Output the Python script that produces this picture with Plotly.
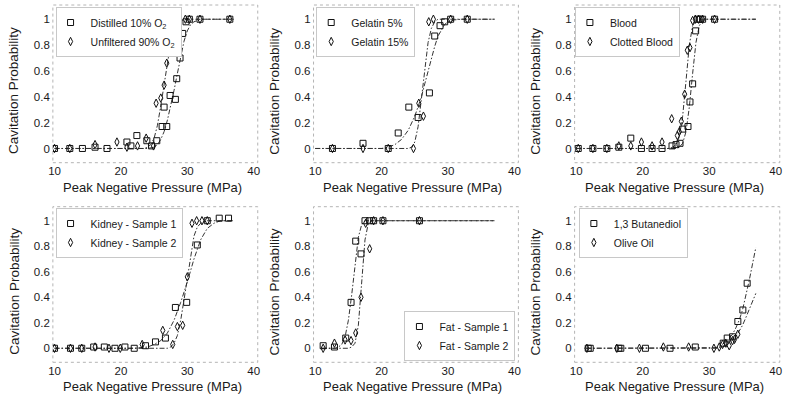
import plotly.graph_objects as go

# ---------------- data ----------------
series_names = [
    ("Distilled 10% O<sub>2</sub>", "Unfiltered 90% O<sub>2</sub>"),
    ("Gelatin 5%", "Gelatin 15%"),
    ("Blood", "Clotted Blood"),
    ("Kidney - Sample 1", "Kidney - Sample 2"),
    ("Fat - Sample 1", "Fat - Sample 2"),
    ("1,3 Butanediol", "Olive Oil"),
]

p1_sq_x = [10.0, 12.3, 14.2, 16.1, 17.9, 20.9, 21.5, 22.4, 23.9, 24.6, 25.4, 26.2, 26.5, 26.9, 27.4, 28.2, 28.4, 28.9, 29.3, 29.8, 30.3, 31.9, 36.4]
p1_sq_y = [0, 0, 0, 0.01, 0, 0.05, 0.02, 0.10, 0.06, 0.02, 0.06, 0.17, 0.32, 0.17, 0.41, 0.38, 0.54, 0.70, 0.89, 0.98, 1.0, 1.0, 1.0]
p1_di_x = [10.0, 12.3, 16.1, 19.4, 20.9, 22.5, 23.8, 24.9, 25.3, 26.0, 26.5, 26.9, 27.4, 27.9, 28.4, 28.7, 29.7, 30.3, 31.9, 36.4]
p1_di_y = [0, 0, 0.03, 0.05, 0.01, 0.02, 0.08, 0.02, 0.35, 0.39, 0.49, 0.66, 0.90, 0.93, 0.96, 0.98, 1.0, 1.0, 1.0, 1.0]
p1_fsq_x = [10, 24, 25, 25.5, 26, 26.5, 27, 27.5, 28, 28.5, 29, 29.5, 30, 30.5, 31, 32, 37]
p1_fsq_y = [0, 0, 0.01, 0.03, 0.07, 0.13, 0.22, 0.33, 0.45, 0.58, 0.72, 0.83, 0.91, 0.96, 0.98, 1.0, 1.0]
p1_fdi_x = [10, 23.5, 24, 24.5, 25, 25.5, 26, 26.5, 27, 27.5, 28, 28.5, 29, 30, 37]
p1_fdi_y = [0, 0, 0.01, 0.03, 0.08, 0.18, 0.33, 0.50, 0.68, 0.82, 0.92, 0.97, 0.99, 1.0, 1.0]

p2_sq_x = [12.6, 17.2, 21.0, 22.5, 24.1, 25.5, 27.2, 28.0, 28.8, 29.5, 30.4, 32.9]
p2_sq_y = [0, 0.04, 0, 0.12, 0.32, 0.24, 0.43, 0.87, 0.95, 0.98, 1.0, 1.0]
p2_di_x = [12.6, 17.2, 21.0, 24.8, 25.6, 26.3, 27.1, 27.8, 30.4, 32.9]
p2_di_y = [0, 0, 0, 0, 0.35, 0.25, 0.98, 1.0, 1.0, 1.0]
p2_fsq_x = [10, 20, 21, 22, 23, 24, 25, 26, 26.5, 27, 27.5, 28, 28.5, 29, 29.5, 30, 31, 32, 37]
p2_fsq_y = [0, 0, 0.01, 0.03, 0.07, 0.14, 0.25, 0.40, 0.50, 0.60, 0.70, 0.79, 0.87, 0.92, 0.96, 0.98, 0.995, 1.0, 1.0]
p2_fdi_x = [10, 24, 24.5, 25, 25.5, 26, 26.5, 27, 27.5, 28, 28.5, 37]
p2_fdi_y = [0, 0, 0.01, 0.05, 0.17, 0.38, 0.62, 0.82, 0.93, 0.98, 1.0, 1.0]

p3_sq_x = [10.3, 12.5, 14.6, 16.4, 18.2, 19.8, 21.4, 22.9, 24.4, 25.0, 25.6, 26.0, 26.8, 27.1, 27.5, 27.95, 28.3, 28.6, 29.0, 30.8]
p3_sq_y = [0, 0, 0, 0.01, 0.08, 0, 0, 0, 0.02, 0.03, 0.04, 0.15, 0.17, 0.36, 0.50, 0.91, 1.0, 1.0, 1.0, 1.0]
p3_di_x = [10.3, 12.5, 14.6, 16.4, 18.2, 19.8, 21.4, 22.9, 24.35, 25.2, 25.5, 25.8, 26.3, 26.7, 27.1, 27.5, 27.9, 28.4, 29.0, 30.8]
p3_di_y = [0, 0, 0, 0.02, 0.02, 0.05, 0.02, 0.05, 0.23, 0.10, 0.13, 0.21, 0.42, 0.76, 0.78, 0.99, 1.0, 1.0, 1.0, 1.0]
p3_fsq_x = [10, 25, 25.5, 26, 26.5, 27, 27.5, 28, 28.5, 29, 29.5, 37]
p3_fsq_y = [0, 0, 0.01, 0.04, 0.13, 0.32, 0.58, 0.82, 0.95, 0.99, 1.0, 1.0]
p3_fdi_x = [10, 24, 24.5, 25, 25.5, 26, 26.5, 27, 27.5, 28, 28.5, 37]
p3_fdi_y = [0, 0, 0.01, 0.03, 0.09, 0.25, 0.52, 0.80, 0.95, 0.99, 1.0, 1.0]

p4_sq_x = [10.0, 12.4, 14.1, 15.9, 17.5, 19.1, 20.6, 22.0, 23.7, 25.2, 26.7, 28.2, 29.9, 31.5, 33.0, 34.8, 36.2]
p4_sq_y = [0, 0, 0, 0.01, 0.01, 0, 0.01, 0, 0.02, 0.05, 0.08, 0.32, 0.36, 0.81, 1.0, 1.02, 1.02]
p4_di_x = [10.0, 12.4, 14.1, 16.1, 18.2, 19.9, 23.2, 26.3, 27.8, 28.5, 29.3, 30.0, 30.7, 31.4, 32.2, 33.0]
p4_di_y = [0, 0, 0, 0.01, 0, 0, 0.03, 0.14, 0.03, 0.17, 0.18, 0.56, 0.98, 1.0, 1.0, 1.0]
p4_fsq_x = [10, 22, 24, 25, 26, 27, 28, 29, 30, 31, 32, 33, 34, 35, 37]
p4_fsq_y = [0, 0, 0.01, 0.03, 0.06, 0.12, 0.22, 0.36, 0.52, 0.70, 0.85, 0.94, 0.98, 1.0, 1.0]
p4_fdi_x = [10, 27, 27.5, 28, 28.5, 29, 29.5, 30, 30.5, 31, 31.5, 32, 33, 37]
p4_fdi_y = [0, 0, 0.01, 0.04, 0.10, 0.22, 0.38, 0.56, 0.74, 0.88, 0.95, 0.98, 1.0, 1.0]

p5_sq_x = [11.2, 12.9, 14.6, 15.4, 16.1, 16.9, 17.5, 18.2, 18.8, 20.2, 25.7]
p5_sq_y = [0.02, 0.01, 0.08, 0.36, 0.84, 0.74, 1.0, 1.0, 1.0, 1.0, 1.0]
p5_di_x = [11.2, 12.9, 14.5, 15.4, 16.1, 16.9, 17.6, 18.2, 18.8, 20.2, 25.7]
p5_di_y = [0, 0.04, 0.065, 0.06, 0.12, 0.40, 0.98, 0.78, 1.0, 1.0, 1.0]
p5_fsq_x = [11, 13, 13.5, 14, 14.5, 15, 15.5, 16, 16.5, 17, 17.5, 37]
p5_fsq_y = [0, 0, 0.01, 0.03, 0.09, 0.22, 0.42, 0.67, 0.87, 0.97, 1.0, 1.0]
p5_fdi_x = [11, 15, 15.5, 16, 16.5, 17, 17.5, 18, 18.5, 37]
p5_fdi_y = [0, 0, 0.01, 0.04, 0.18, 0.50, 0.85, 0.98, 1.0, 1.0]

p6_sq_x = [11.8, 12.1, 16.4, 16.7, 20.4, 24.1, 27.9, 32.1, 32.7, 33.5, 34.3, 35.05, 35.7]
p6_sq_y = [0, 0, 0, 0, 0, 0, 0.01, 0.04, 0.08, 0.09, 0.21, 0.30, 0.51]
p6_di_x = [11.6, 16.1, 19.5, 23.1, 26.9, 30.7, 31.5, 32.0, 32.5, 33.0, 33.5, 33.8, 34.3]
p6_di_y = [0, 0, 0, 0.01, 0.01, 0, 0.01, 0.03, 0.04, 0.02, 0.06, 0.07, 0.11]
p6_fsq_x = [11.5, 30, 31, 31.5, 32, 32.5, 33, 33.5, 34, 34.5, 35, 35.5, 36, 36.5, 37]
p6_fsq_y = [0, 0, 0.005, 0.015, 0.03, 0.05, 0.08, 0.11, 0.16, 0.22, 0.30, 0.41, 0.53, 0.66, 0.79]
p6_fdi_x = [11.5, 31, 32, 33, 34, 34.5, 35, 35.5, 36, 36.5, 37]
p6_fdi_y = [0, 0, 0.01, 0.04, 0.09, 0.13, 0.18, 0.24, 0.30, 0.37, 0.43]

x_ticks = [10, 20, 30, 40]
y_ticks = [0, 0.2, 0.4, 0.6, 0.8, 1]
y_tick_text = ["0", "0.2", "0.4", "0.6", "0.8", "1"]
x_title = "Peak Negative Pressure (MPa)"
y_title = "Cavitation Probability"

panels = [
    (p1_sq_x, p1_sq_y, p1_di_x, p1_di_y, p1_fsq_x, p1_fsq_y, p1_fdi_x, p1_fdi_y),
    (p2_sq_x, p2_sq_y, p2_di_x, p2_di_y, p2_fsq_x, p2_fsq_y, p2_fdi_x, p2_fdi_y),
    (p3_sq_x, p3_sq_y, p3_di_x, p3_di_y, p3_fsq_x, p3_fsq_y, p3_fdi_x, p3_fdi_y),
    (p4_sq_x, p4_sq_y, p4_di_x, p4_di_y, p4_fsq_x, p4_fsq_y, p4_fdi_x, p4_fdi_y),
    (p5_sq_x, p5_sq_y, p5_di_x, p5_di_y, p5_fsq_x, p5_fsq_y, p5_fdi_x, p5_fdi_y),
    (p6_sq_x, p6_sq_y, p6_di_x, p6_di_y, p6_fsq_x, p6_fsq_y, p6_fdi_x, p6_fdi_y),
]

# ---------------- layout geometry (pixels) ----------------
W, H = 788, 403
col_px = [(48.3, 255.0), (311.3, 518.0), (574.7, 781.7)]
row_px = [(5.0, 162.7), (206.7, 362.3)]
legend_pos = [
    ("tl", 51, 7), ("tl", 314, 7), ("tl", 575, 7),
    ("tl", 51, 208), ("br", 515, 361), ("tl", 579, 208),
]

FONT = "Liberation Sans, Arial, sans-serif"
TXT = "#1a1a1a"
LINE = "#333333"
DASH = "5px,2px,1.5px,2px"

fig = go.Figure()
shapes = []
annotations = []
layout = {}

for i, (sx, sy, dx, dy, fsx, fsy, fdx, fdy) in enumerate(panels):
    r, c = divmod(i, 3)
    k = "" if i == 0 else str(i + 1)
    xa, ya = "x" + k, "y" + k
    leg = "legend" + k
    x0, x1 = col_px[c]
    y0, y1 = row_px[r]
    dom_x = [x0 / W, x1 / W]
    dom_y = [1 - y1 / H, 1 - y0 / H]

    for fx, fy in ((fsx, fsy), (fdx, fdy)):
        fig.add_trace(go.Scatter(x=fx, y=fy, mode="lines", xaxis=xa, yaxis=ya,
                                 line=dict(color=LINE, width=1, dash=DASH),
                                 showlegend=False, hoverinfo="skip"))
    n_sq, n_di = series_names[i]
    fig.add_trace(go.Scatter(x=sx, y=sy, mode="markers", name=n_sq, xaxis=xa, yaxis=ya,
                             legend=leg,
                             marker=dict(symbol="square-open", size=6, color="#111",
                                         line=dict(width=1, color="#111"))))
    fig.add_trace(go.Scatter(x=dx, y=dy, mode="markers", name=n_di, xaxis=xa, yaxis=ya,
                             legend=leg,
                             marker=dict(symbol="diamond-tall-open", size=6, color="#111",
                                         line=dict(width=1, color="#111"))))

    axis_common = dict(showgrid=False, zeroline=False, showline=False,
                       ticks="", tickfont=dict(size=11.5, color=TXT, family=FONT))
    layout["xaxis" + k] = dict(axis_common, domain=dom_x, range=[9.75, 40.6],
                               tickvals=x_ticks, anchor=ya, ticklabelstandoff=0)
    layout["yaxis" + k] = dict(axis_common, domain=dom_y, range=[-0.11, 1.11],
                               tickvals=y_ticks, ticktext=y_tick_text, anchor=xa,
                               ticklabelstandoff=2)

    shapes.append(dict(type="rect", xref=xa + " domain", yref=ya + " domain",
                       x0=0, x1=1, y0=0, y1=1,
                       line=dict(color="#b4b4b4", width=1, dash="dot"), layer="below"))
    annotations.append(dict(text=x_title, xref="paper", yref="paper",
                            x=((x0 + x1) / 2 - 3) / W, y=1 - (y1 + 24.5) / H,
                            xanchor="center", yanchor="middle", showarrow=False,
                            font=dict(size=13, color=TXT, family=FONT)))
    annotations.append(dict(text=y_title, xref="paper", yref="paper",
                            x=(x0 - 39) / W, y=1 - ((y0 + y1) / 2 + 7) / H,
                            xanchor="center", yanchor="middle", showarrow=False,
                            textangle=-90, font=dict(size=13.5, color=TXT, family=FONT)))

    mode, lx, ly = legend_pos[i]
    if mode == "tl":
        lg = dict(x=lx / W, y=1 - ly / H, xanchor="left", yanchor="top")
    else:
        lg = dict(x=lx / W, y=1 - ly / H, xanchor="right", yanchor="bottom")
    lg.update(bgcolor="white", bordercolor="#c8c8c8", borderwidth=1,
              font=dict(size=10.5, color=TXT, family=FONT), indentation=-6,
              itemwidth=30, tracegroupgap=0, xref="paper", yref="paper")
    layout[leg] = lg

fig.update_layout(
    width=W, height=H, margin=dict(l=0, r=0, t=0, b=0),
    paper_bgcolor="white", plot_bgcolor="white",
    font=dict(family=FONT, color=TXT),
    shapes=shapes, annotations=annotations, **layout,
)

fig.write_html("out.html")
